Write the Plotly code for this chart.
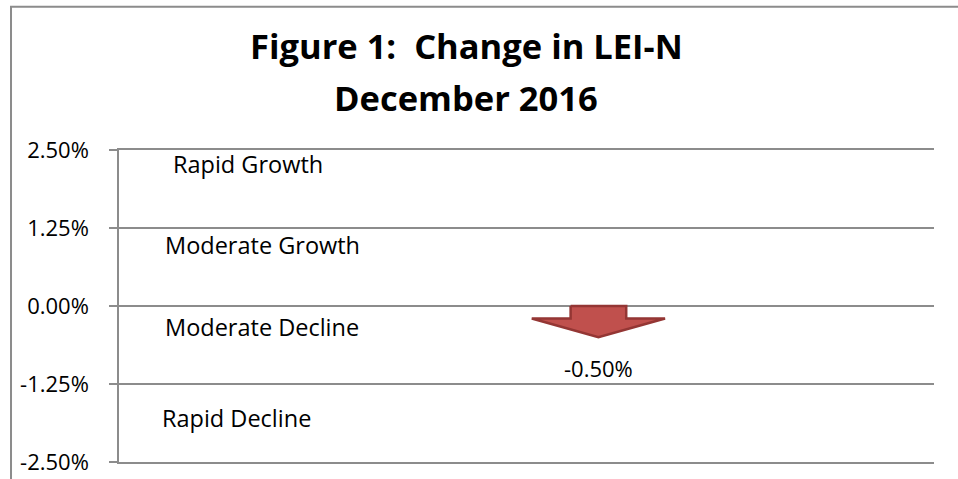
import plotly.graph_objects as go

# data
title_lines = ["Figure 1:  Change in LEI-N", "December 2016"]
change_pct = [-0.50]
arrow_slot = [1]
y_ticks = [2.5, 1.25, 0.0, -1.25, -2.5]
y_tick_text = ["2.50%", "1.25%", "0.00%", "-1.25%", "-2.50%"]
zone_names = ["Rapid Growth", "Moderate Growth", "Moderate Decline", "Rapid Decline"]
zone_label_y = [2.28, 0.97, -0.34, -1.79]
zone_label_x = [0.064, 0.054, 0.054, 0.050]

FONT = "Open Sans"
GRID = "#8c8c8c"

fig = go.Figure()

# block arrow built from the value: stem to 40% of the drop, head to the value
stem_half = 0.058
head_half = 0.139
for x, v in zip(arrow_slot, change_pct):
    neck = v * 0.4
    xs = [x - stem_half, x + stem_half, x + stem_half, x + head_half, x,
          x - head_half, x - stem_half, x - stem_half]
    ys = [0, 0, neck, neck, v, neck, neck, 0]
    fig.add_trace(go.Scatter(
        x=xs, y=ys, mode="lines", fill="toself",
        fillcolor="#c0504d", line=dict(color="#943634", width=2.5),
        hoverinfo="skip", showlegend=False,
    ))
    fig.add_annotation(
        x=x, y=v, text=f"{v:.2f}%", showarrow=False,
        yanchor="top", yshift=-14, font=dict(family=FONT, size=22, color="#000"),
    )

for name, lx, ly in zip(zone_names, zone_label_x, zone_label_y):
    fig.add_annotation(
        x=lx, xref="paper", y=ly, text=name, showarrow=False,
        xanchor="left", yanchor="middle",
        font=dict(family=FONT, size=23.5, color="#000"),
    )

# two-line bold title
for line, ty in zip(title_lines, [1.336, 1.167]):
    fig.add_annotation(
        x=0.426, xref="paper", y=ty, yref="paper", text="<b>" + line + "</b>",
        showarrow=False, xanchor="center", yanchor="middle",
        font=dict(family=FONT, size=34.5, color="#000"),
    )

# outer chart frame
fig.add_shape(type="rect", xref="paper", yref="paper",
              x0=-0.1325, x1=1.2, y0=-0.3, y1=1.459,
              line=dict(color=GRID, width=2), layer="below")

fig.update_layout(
    width=958, height=479,
    margin=dict(l=119, r=24, t=150, b=17, autoexpand=False),
    paper_bgcolor="white", plot_bgcolor="white",
    xaxis=dict(range=[0, 1.7], showgrid=False, zeroline=False,
               showticklabels=False, showline=True, mirror=True,
               linecolor=GRID, linewidth=1.5, fixedrange=True,
               automargin=False),
    yaxis=dict(
        range=[-2.5, 2.5], tickvals=y_ticks, ticktext=y_tick_text,
        showgrid=True, gridcolor=GRID, gridwidth=1.5,
        zeroline=False, showline=True, linecolor=GRID, linewidth=1.5,
        ticks="outside", ticklen=8, tickcolor=GRID, tickwidth=1.5,
        ticklabelstandoff=16, automargin=False, fixedrange=True,
        tickfont=dict(family=FONT, size=22, color="#000"),
    ),
)

# page body margin would shift the figure 8px; drop it
fig.write_html("out.html", config={"displayModeBar": False},
               post_script="document.body.style.margin='0';")
